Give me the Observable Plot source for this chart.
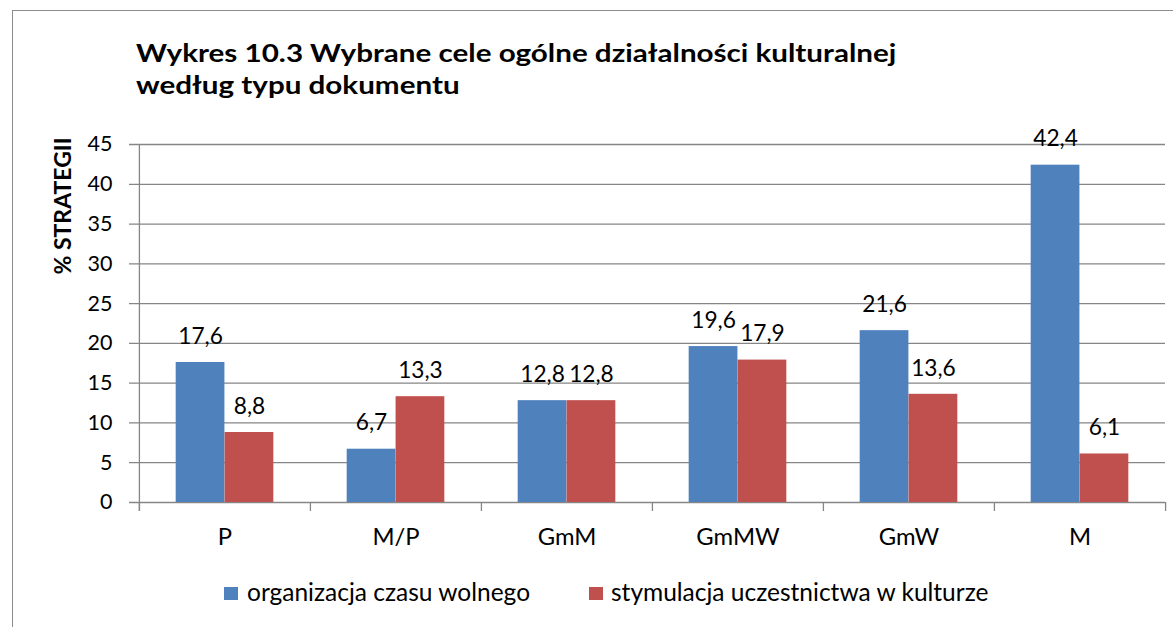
<!DOCTYPE html>
<html>
<head>
<meta charset="utf-8">
<script src="https://cdn.jsdelivr.net/npm/d3@7"></script>
<script src="https://cdn.jsdelivr.net/npm/@observablehq/plot@0.6"></script>
<style>
  html, body { margin: 0; padding: 0; background: #fff; overflow: hidden; }
  #wrap { position: relative; width: 1173px; height: 627px; overflow: hidden; font-family: Lato, "Open Sans", sans-serif; }
  #border { position: absolute; left: 12px; top: 10px; width: 1200px; height: 700px; border: 1.5px solid #8c8c8c; box-sizing: border-box; }
  #title { position: absolute; left: 136px; top: 36px; font-weight: bold; font-size: 25.5px; line-height: 32px; color: #000; white-space: nowrap; transform: scaleX(1.16); transform-origin: 0 0; }
  #chart { position: absolute; left: 0; top: 110px; }
  #legend { position: absolute; top: 0; left: 0; width: 1173px; height: 627px; font-size: 24.5px; color: #000; pointer-events: none; }
  .sw { position: absolute; top: 587px; width: 14px; height: 13px; }
  .lt { position: absolute; top: 577px; line-height: 29.4px; white-space: nowrap; }
</style>
</head>
<body>
<div id="wrap">
  <div id="border"></div>
  <div id="title"></div>
  <div id="chart"></div>
  <div id="legend"></div>
</div>
<script>
const titleLines = ["Wykres 10.3 Wybrane cele ogólne działalności kulturalnej", "według typu dokumentu"];
const yLabel = "% STRATEGII";
const categories = ["P", "M/P", "GmM", "GmMW", "GmW", "M"];
const seriesNames = ["organizacja czasu wolnego", "stymulacja uczestnictwa w kulturze"];
const organizacja = [17.6, 6.7, 12.8, 19.6, 21.6, 42.4];
const stymulacja = [8.8, 13.3, 12.8, 17.9, 13.6, 6.1];
const yTicks = [0, 5, 10, 15, 20, 25, 30, 35, 40, 45];
const colors = ["#4F81BD", "#C0504D"];

document.getElementById("title").innerHTML = titleLines.join("<br>");

const W = 1173, H = 460, mL = 138, mR = 8, mT = 34, mB = 68;
const bw = (W - mL - mR) / categories.length;
const bar = bw / 3.5;
const gap = bar * 0.75;
const plotH = H - mT - mB;

const rows = [];
categories.forEach((c, i) => {
  rows.push({cat: c, series: seriesNames[0], value: organizacja[i]});
  rows.push({cat: c, series: seriesNames[1], value: stymulacja[i]});
});
const s0 = rows.filter(d => d.series === seriesNames[0]);
const s1 = rows.filter(d => d.series === seriesNames[1]);
const fmt = v => v.toFixed(1).replace(".", ",");
const tickFont = 21.5, labelFont = 22.7, catFont = 23.8;

const plot = Plot.plot({
  width: W, height: H,
  marginLeft: mL, marginRight: mR, marginTop: mT, marginBottom: mB,
  style: {fontFamily: "Lato, 'Open Sans', sans-serif", fontSize: tickFont + "px", color: "#000", background: "transparent", overflow: "visible"},
  x: {domain: categories, padding: 0},
  y: {domain: [0, 45]},
  marks: [
    Plot.ruleY(yTicks, {stroke: "#868686", strokeWidth: 1.3, insetLeft: -9}),
    Plot.barY(s0, {x: "cat", y: "value", fill: colors[0], insetLeft: gap, insetRight: bw - gap - bar}),
    Plot.barY(s1, {x: "cat", y: "value", fill: colors[1], insetLeft: gap + bar, insetRight: gap}),
    Plot.ruleX([categories[0]], {x: d => d, dx: -bw / 2, stroke: "#868686", strokeWidth: 1.3, insetBottom: -9}),
    Plot.ruleX(categories, {x: d => d, dx: -bw / 2, stroke: "#868686", strokeWidth: 1.3, insetTop: plotH, insetBottom: -9}),
    Plot.ruleX([categories[categories.length - 1]], {x: d => d, dx: bw / 2, stroke: "#868686", strokeWidth: 1.3, insetTop: plotH, insetBottom: -9}),
    Plot.text(s0, {x: "cat", y: "value", text: d => fmt(d.value), dx: -bar / 2, dy: -26, fill: "#000", fontSize: labelFont}),
    Plot.text(s1, {x: "cat", y: "value", text: d => fmt(d.value), dx: bar / 2, dy: -26, fill: "#000", fontSize: labelFont}),
    Plot.axisY({ticks: yTicks, tickSize: 0, tickPadding: 26, label: null, fontSize: tickFont}),
    Plot.axisX({tickSize: 0, tickPadding: 26, label: null, fontSize: catFont}),
    Plot.text([yLabel], {text: d => d, frameAnchor: "top-left", rotate: -90, textAnchor: "end", lineAnchor: "middle", dx: -75, dy: -7, fontWeight: "bold", fontSize: 23, fill: "#000"})
  ]
});
document.getElementById("chart").appendChild(plot);

const legend = document.getElementById("legend");
const legendPos = [{sw: 224, tx: 247}, {sw: 589, tx: 611}];
seriesNames.forEach((name, i) => {
  const sw = document.createElement("div");
  sw.className = "sw"; sw.style.left = legendPos[i].sw + "px"; sw.style.background = colors[i];
  const t = document.createElement("div");
  t.className = "lt"; t.style.left = legendPos[i].tx + "px"; t.textContent = name;
  legend.appendChild(sw); legend.appendChild(t);
});
</script>
</body>
</html>
